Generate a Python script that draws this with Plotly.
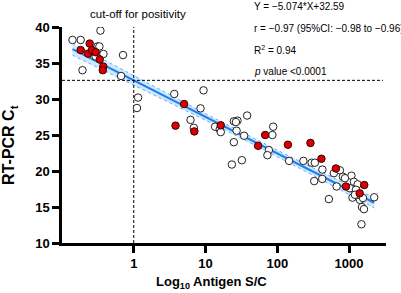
import numpy as np
import plotly.graph_objects as go

# Antigen S/C (x) and RT-PCR Ct (y) for open (white) and red points
open_x = [0.140, 0.182, 0.343, 0.193, 0.312, 0.332, 0.378, 0.295, 0.709, 0.665,
          1.148, 1.108, 3.67, 9.38, 8.52, 6.18, 6.87, 13.6, 15.8, 16.3,
          24.8, 27.9, 26.5, 38.0, 27.1, 34.5, 24.8, 23.3, 32.1, 87.7,
          85.5, 76.3, 72.8, 146, 231, 301, 334, 425, 327, 423,
          524, 615, 746, 822, 671, 1080, 1170, 1115, 1030, 1318,
          1248, 1419, 1514, 1614, 1489, 2240, 1331, 1563, 1209, 877]
open_y = [38.2, 38.2, 39.5, 34.0, 37.3, 37.3, 36.25, 35.9, 36.1, 33.2,
          30.2, 28.75, 30.7, 31.2, 28.7, 27.1, 26.0, 26.15, 25.8, 25.4,
          26.9, 27.0, 26.8, 27.7, 25.6, 24.9, 24.0, 20.9, 21.5, 26.15,
          25.0, 22.9, 22.2, 21.4, 21.4, 21.15, 21.15, 20.2, 18.6, 18.9,
          16.1, 19.7, 20.1, 19.2, 17.85, 19.35, 18.5, 16.3, 17.6, 18.15,
          17.4, 16.0, 15.0, 14.7, 12.6, 16.35, 16.7, 16.25, 16.7, 19.0]

red_x = [0.182, 0.243, 0.231, 0.262, 0.295, 0.336, 0.376, 0.370, 5.03, 3.82,
         6.98, 16.3, 54.0, 67.8, 140.6, 290, 412, 656, 905, 1630, 1406]
red_y = [36.8, 37.7, 36.3, 36.8, 36.5, 35.5, 34.5, 34.0, 29.3, 26.3,
         25.5, 26.35, 23.5, 25.0, 23.65, 23.9, 21.7, 20.35, 17.85, 18.05, 16.9]

SLOPE = -5.074
INTERCEPT = 32.59
CUTOFF_X = 1
CUTOFF_Y = 32.59

stats_lines = ["Y = \u22125.074*X+32.59",
               "r = \u22120.97 (95%CI: \u22120.98 to \u22120.96)",
               "R<sup>2</sup> = 0.94",
               "<i>p</i> value &lt;0.0001"]

# regression line and 95% CI band
all_x = np.log10(np.array(open_x + red_x))
all_y = np.array(open_y + red_y)
n = len(all_x)
resid = all_y - (SLOPE * all_x + INTERCEPT)
s = np.sqrt(np.sum(resid ** 2) / (n - 2))
xbar = all_x.mean()
sxx = np.sum((all_x - xbar) ** 2)
lx = np.linspace(all_x.min(), all_x.max(), 100)
ly = SLOPE * lx + INTERCEPT
half = 1.99 * s * np.sqrt(1 / n + (lx - xbar) ** 2 / sxx)
xx = 10 ** lx

fig = go.Figure()
fig.add_trace(go.Scatter(x=xx, y=ly + half, mode="lines",
                         line=dict(color="#5ab0ff", width=1, dash="dot"),
                         showlegend=False, hoverinfo="skip"))
fig.add_trace(go.Scatter(x=xx, y=ly - half, mode="lines", fill="tonexty",
                         fillcolor="rgba(120,190,255,0.35)",
                         line=dict(color="#5ab0ff", width=1, dash="dot"),
                         showlegend=False, hoverinfo="skip"))
fig.add_trace(go.Scatter(x=xx, y=ly, mode="lines",
                         line=dict(color="#1f7ee8", width=2),
                         showlegend=False))

# cut-off lines
fig.add_trace(go.Scatter(x=[0.1, 2970], y=[CUTOFF_Y, CUTOFF_Y], mode="lines",
                         line=dict(color="black", width=1, dash="3px,2px"),
                         showlegend=False))
fig.add_trace(go.Scatter(x=[CUTOFF_X, CUTOFF_X], y=[10, 40], mode="lines",
                         line=dict(color="black", width=1, dash="3px,2px"),
                         showlegend=False))

fig.add_trace(go.Scatter(x=open_x, y=open_y, mode="markers",
                         marker=dict(size=7.5, color="white",
                                     line=dict(color="#222222", width=1)),
                         showlegend=False))
fig.add_trace(go.Scatter(x=red_x, y=red_y, mode="markers",
                         marker=dict(size=7.5, color="#d80000",
                                     line=dict(color="#3a0000", width=1)),
                         showlegend=False))

font_fam = "Liberation Sans, Arial, sans-serif"
fig.update_layout(
    width=401, height=293,
    margin=dict(l=62, r=15, t=27, b=50),
    paper_bgcolor="white", plot_bgcolor="white",
    font=dict(family=font_fam, color="black"),
    xaxis=dict(type="log", range=[-1.0, 3.515],
               tickvals=[1, 10, 100, 1000], ticktext=["1", "10", "100", "1000"],
               showgrid=False, zeroline=False, showline=True, linecolor="black",
               linewidth=2.5, ticks="outside", ticklen=7, tickwidth=2.5,
               tickcolor="black",
               tickfont=dict(size=13, family=font_fam, weight="bold")),
    yaxis=dict(range=[10, 40], tickvals=[10, 15, 20, 25, 30, 35, 40],
               showgrid=False, zeroline=False, showline=True, linecolor="black",
               linewidth=2.5, ticks="outside", ticklen=7, tickwidth=2.5,
               tickcolor="black",
               tickfont=dict(size=13, family=font_fam, weight="bold")),
)

anns = [
    dict(text="<b>RT-PCR C<sub>t</sub></b>", x=-0.16, y=0.455, xref="paper",
         yref="paper", textangle=-90, showarrow=False, font=dict(size=16),
         xanchor="center", yanchor="middle"),
    dict(text="<b>Log<sub>10</sub> Antigen S/C</b>", x=0.46, y=-0.185,
         xref="paper", yref="paper", showarrow=False, font=dict(size=13),
         xanchor="center", yanchor="middle"),
    dict(text="cut-off for positivity", x=0.235, y=1.06, xref="paper",
         yref="paper", showarrow=False, font=dict(size=11.5),
         xanchor="center", yanchor="middle"),
]
stat_y = [1.093, 0.995, 0.894, 0.796]
for t, yy in zip(stats_lines, stat_y):
    anns.append(dict(text=t, x=0.586, y=yy, xref="paper", yref="paper",
                     showarrow=False, font=dict(size=10), xanchor="left",
                     yanchor="middle"))
fig.update_layout(annotations=anns)

fig.write_html("out.html")
